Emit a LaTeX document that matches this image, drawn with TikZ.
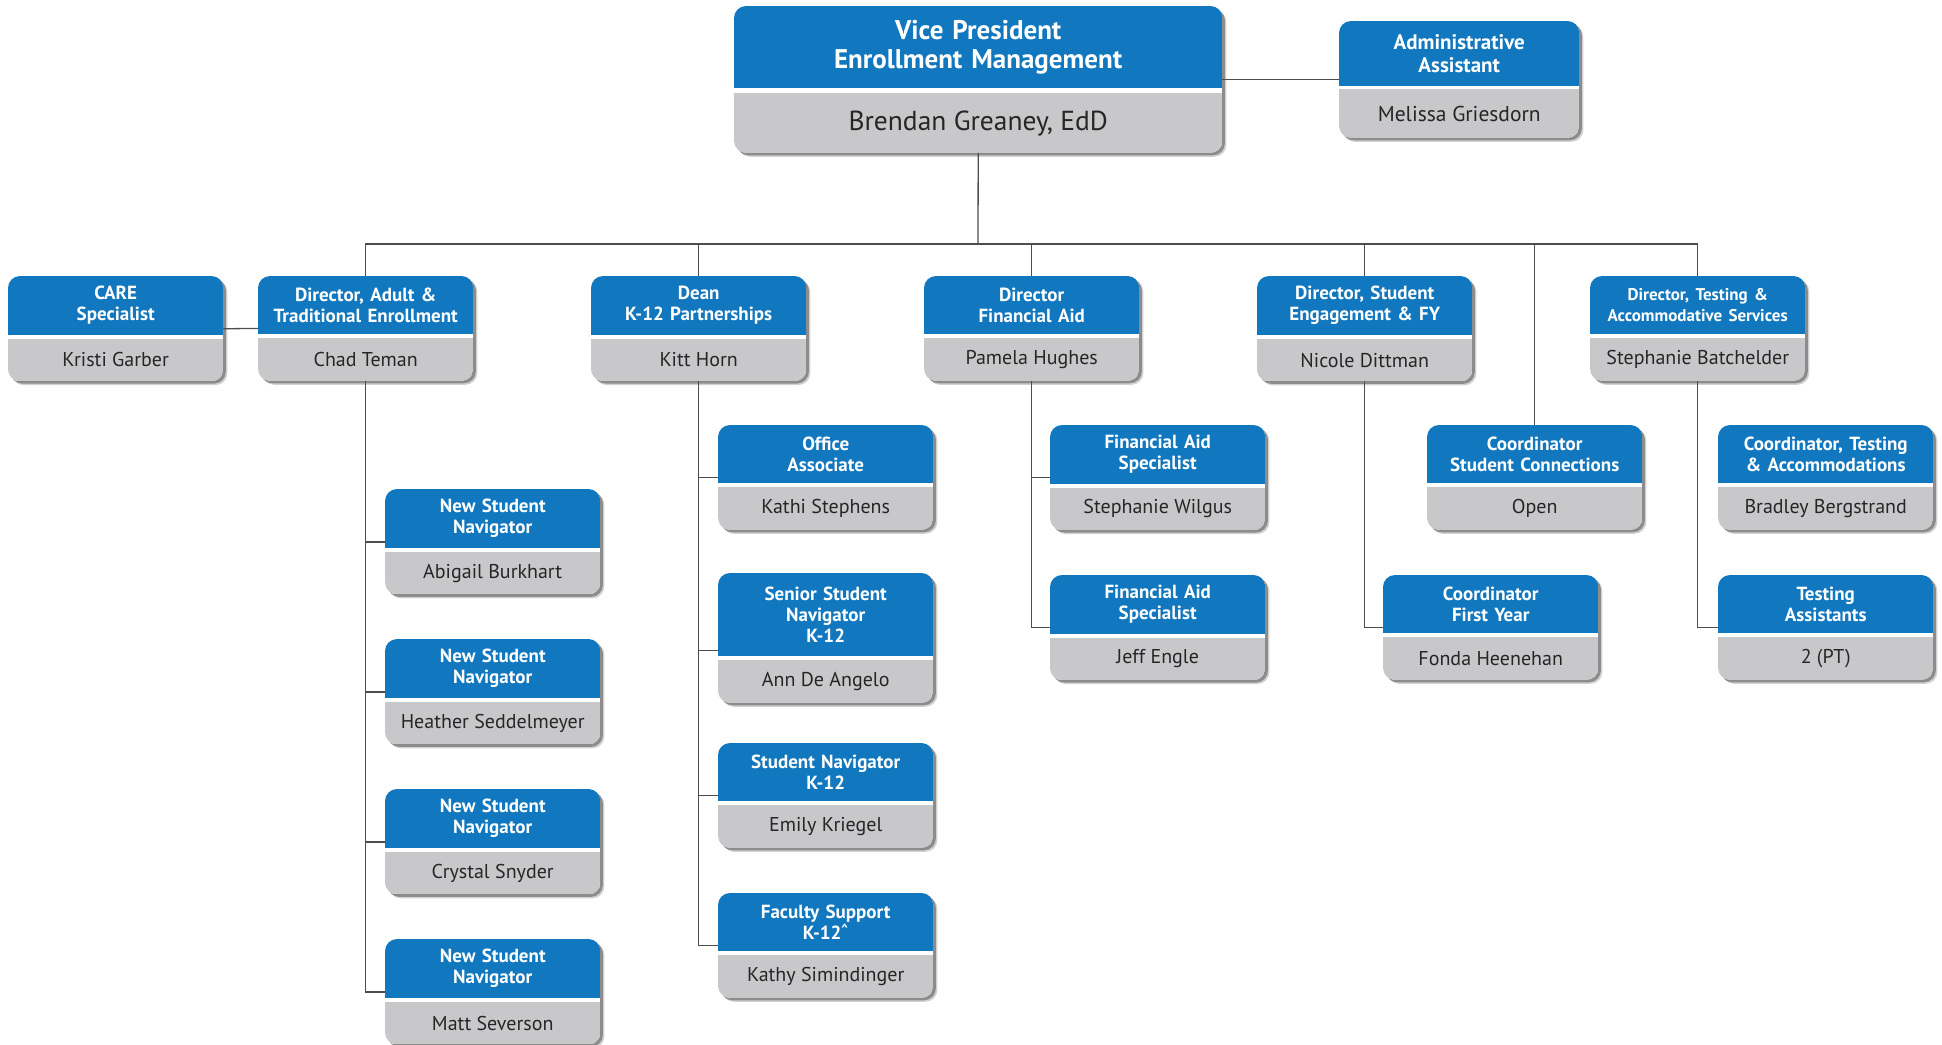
\documentclass[tikz,border=0pt]{standalone}
\usepackage{fontspec}
\setmainfont{PT Sans}
\usetikzlibrary{positioning,backgrounds}
\definecolor{chartblue}{HTML}{1177BE}
\definecolor{chartgray}{HTML}{C8C8CA}
\definecolor{chartink}{HTML}{262626}
\definecolor{chartline}{HTML}{4D4D4D}
\tikzset{
  rolebox/.style={anchor=north west, minimum width=215pt, text width=207pt,
    inner xsep=4pt, inner ysep=10pt, minimum height=58pt, align=center,
    text=white, font=\bfseries\fontsize{19}{21}\selectfont},
  personbox/.style={minimum width=215pt, minimum height=42pt, inner sep=0pt,
    text=chartink, font=\fontsize{20}{22}\selectfont},
  link/.style={chartline, line width=1.3pt}
}

\begin{document}
\begin{tikzpicture}[x=1pt,y=-1pt]
    \useasboundingbox (0,0) rectangle (1942,1044);

    % top of the chart
    \node[rolebox, minimum width=488pt, text width=480pt, minimum height=82pt,
      font=\bfseries\fontsize{27}{29}\selectfont] (vp) at (734,6)
      {Vice President\\Enrollment Management};
    \node[personbox, minimum width=488pt, minimum height=59pt,
      font=\fontsize{27.5}{29}\selectfont, below=5pt of vp] (vp-p) {Brendan Greaney, EdD};

    \node[rolebox, minimum width=240pt, text width=232pt, minimum height=65pt,
      font=\bfseries\fontsize{21}{23}\selectfont] (ad) at (1339,21)
      {Administrative\\Assistant};
    \node[personbox, minimum width=240pt, minimum height=48pt,
      font=\fontsize{21.5}{23}\selectfont, below=3pt of ad] (ad-p) {Melissa Griesdorn};

    \draw[link] ([yshift=9pt]vp.south east) -- ([yshift=9pt]vp.south east -| ad.west);

    % directors
    \foreach \x/\t/\p [count=\n] in {8/{CARE\\Specialist}/Kristi Garber,
        258/{Director, Adult \&\\Traditional Enrollment}/Chad Teman,
        591/{Dean\\K-12 Partnerships}/Kitt Horn,
        924/{Director\\Financial Aid}/Pamela Hughes,
        1257/{Director, Student\\Engagement \& FY}/Nicole Dittman,
        1590/{\fontsize{17}{21}\selectfont Director, Testing \&\\Accommodative Services}/Stephanie Batchelder}
    {
        \node[rolebox] (l\n) at (\x,276) {\t};
        \node[personbox, below=4pt of l\n] (l\n-p) {\p};
    }

    \coordinate (bus) at (978,244);
    \draw[link] (vp-p.south) -- (bus);
    \draw[link] (l2.north) |- (bus) -| (l6.north);
    \draw[link] ([yshift=6pt]l1.south east) -- ([yshift=6pt]l2.south west);

    % adult & traditional enrollment
    \foreach \y/\p [count=\n] in {489/Abigail Burkhart, 639/Heather Seddelmeyer,
        789/Crystal Snyder, 939/Matt Severson}
    {
        \node[rolebox] (a\n) at (385,\y) {New Student\\Navigator};
        \node[personbox, below=4pt of a\n] (a\n-p) {\p};
        \draw[link] (l2-p.south) |- ([yshift=6pt]a\n.south west);
    }

    % k-12 partnerships
    \foreach \y/\h/\t/\p [count=\n] in {425/58/{Office\\Associate}/Kathi Stephens,
        573/83/{Senior Student\\Navigator\\K-12}/Ann De Angelo,
        743/58/{Student Navigator\\K-12}/Emily Kriegel,
        893/58/{Faculty Support\\K-12\textsuperscript{\textasciicircum}}/Kathy Simindinger}
    {
        \node[rolebox, minimum height=\h pt] (d\n) at (718,\y) {\t};
        \node[personbox, below=4pt of d\n] (d\n-p) {\p};
        \draw[link] (l3-p.south) |- ([yshift=6pt]d\n.south west);
    }

    % financial aid
    \foreach \y/\p [count=\n] in {425/Stephanie Wilgus, 575/Jeff Engle}
    {
        \node[rolebox] (f\n) at (1050,\y) {Financial Aid\\Specialist};
        \node[personbox, below=4pt of f\n] (f\n-p) {\p};
        \draw[link] (l4-p.south) |- ([yshift=6pt]f\n.south west);
    }

    % student engagement
    \node[rolebox] (s1) at (1383,575) {Coordinator\\First Year};
    \node[personbox, below=4pt of s1] (s1-p) {Fonda Heenehan};
    \draw[link] (l5-p.south) |- ([yshift=6pt]s1.south west);

    \node[rolebox] (c1) at (1427,425) {Coordinator\\Student Connections};
    \node[personbox, below=4pt of c1] (c1-p) {Open};

    \foreach \b in {l3,l4,l5,c1}
        \draw[link] (\b.north |- bus) -- (\b.north);

    % testing
    \node[rolebox] (t1) at (1718,425) {Coordinator, Testing\\\& Accommodations};
    \node[personbox, below=4pt of t1] (t1-p) {Bradley Bergstrand};
    \node[rolebox] (t2) at (1718,575) {Testing\\Assistants};
    \node[personbox, below=4pt of t2] (t2-p) {2 (PT)};
    \draw[link] (l6-p.south) |- ([yshift=6pt]t2.south west);

    % box backgrounds
    \begin{scope}[on background layer]
        \foreach \b in {vp,ad,l1,l2,l3,l4,l5,l6,a1,a2,a3,a4,d1,d2,d3,d4,f1,f2,s1,c1,t1,t2} {
            \fill[black!18, rounded corners=12pt] ([shift={(4pt,-4pt)}]\b.north west) rectangle ([shift={(4pt,-4pt)}]\b-p.south east);
            \fill[black!45, rounded corners=12pt] ([shift={(2.5pt,-2.5pt)}]\b.north west) rectangle ([shift={(2.5pt,-2.5pt)}]\b-p.south east);
            \begin{scope}
                \clip[rounded corners=12pt] (\b.north west) rectangle (\b-p.south east);
                \fill[white] (\b.north west) rectangle (\b-p.south east);
                \fill[chartblue] (\b.north west) rectangle (\b.south east);
                \fill[chartgray] (\b-p.north west) rectangle (\b-p.south east);
            \end{scope}
        }
    \end{scope}
\end{tikzpicture}
\end{document}
